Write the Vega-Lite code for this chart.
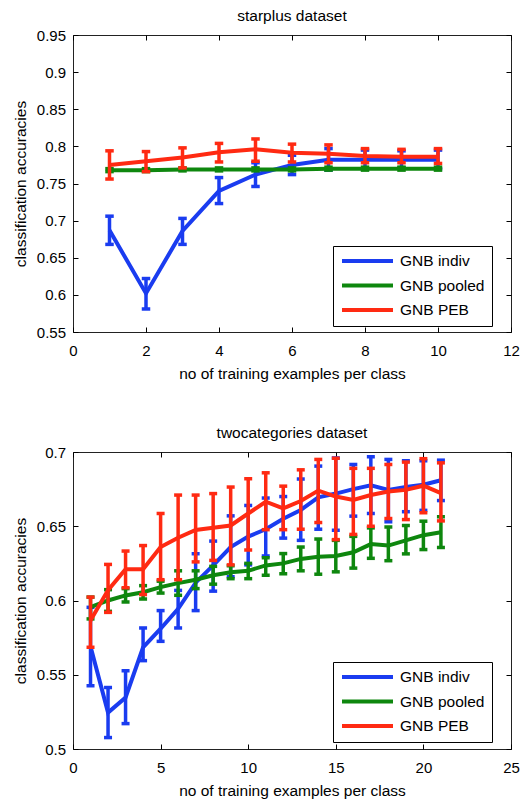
{
  "$schema": "https://vega.github.io/schema/vega-lite/v6.json",
  "padding": {"left": 12, "top": 8, "right": 2, "bottom": 3},
  "spacing": 42,
  "config": {
    "font": "Liberation Sans",
    "view": {"stroke": "#222", "strokeWidth": 1},
    "axis": {"grid": false, "domain": false, "tickColor": "#000", "tickSize": -5, "tickWidth": 1, "labelFontSize": 15, "labelColor": "#000", "titleFontSize": 15.5, "titleFontWeight": "normal", "titleColor": "#000", "labelFont": "Liberation Sans", "titleFont": "Liberation Sans", "labelFlush": false, "labelOverlap": false},
    "axisX": {"labelPadding": 16, "titlePadding": 8.5},
    "axisY": {"labelPadding": 12.5, "titlePadding": 8},
    "title": {"fontSize": 15.5, "fontWeight": "normal", "color": "#000", "offset": 4, "anchor": "middle", "frame": "group", "font": "Liberation Sans"}
  },
  "datasets": {
    "star": [
      {"n": 1, "method": "GNB indiv", "acc": 0.687, "lo": 0.668, "hi": 0.706},
      {"n": 2, "method": "GNB indiv", "acc": 0.602, "lo": 0.581, "hi": 0.622},
      {"n": 3, "method": "GNB indiv", "acc": 0.686, "lo": 0.668, "hi": 0.703},
      {"n": 4, "method": "GNB indiv", "acc": 0.740, "lo": 0.723, "hi": 0.758},
      {"n": 5, "method": "GNB indiv", "acc": 0.762, "lo": 0.746, "hi": 0.778},
      {"n": 6, "method": "GNB indiv", "acc": 0.775, "lo": 0.762, "hi": 0.788},
      {"n": 7, "method": "GNB indiv", "acc": 0.782, "lo": 0.768, "hi": 0.797},
      {"n": 8, "method": "GNB indiv", "acc": 0.782, "lo": 0.770, "hi": 0.795},
      {"n": 9, "method": "GNB indiv", "acc": 0.782, "lo": 0.771, "hi": 0.794},
      {"n": 10, "method": "GNB indiv", "acc": 0.782, "lo": 0.770, "hi": 0.795},
      {"n": 1, "method": "GNB pooled", "acc": 0.768, "lo": 0.766, "hi": 0.770},
      {"n": 2, "method": "GNB pooled", "acc": 0.768, "lo": 0.766, "hi": 0.770},
      {"n": 3, "method": "GNB pooled", "acc": 0.769, "lo": 0.767, "hi": 0.771},
      {"n": 4, "method": "GNB pooled", "acc": 0.769, "lo": 0.767, "hi": 0.771},
      {"n": 5, "method": "GNB pooled", "acc": 0.769, "lo": 0.767, "hi": 0.771},
      {"n": 6, "method": "GNB pooled", "acc": 0.769, "lo": 0.767, "hi": 0.771},
      {"n": 7, "method": "GNB pooled", "acc": 0.770, "lo": 0.768, "hi": 0.772},
      {"n": 8, "method": "GNB pooled", "acc": 0.770, "lo": 0.768, "hi": 0.772},
      {"n": 9, "method": "GNB pooled", "acc": 0.770, "lo": 0.768, "hi": 0.772},
      {"n": 10, "method": "GNB pooled", "acc": 0.770, "lo": 0.768, "hi": 0.772},
      {"n": 1, "method": "GNB PEB", "acc": 0.775, "lo": 0.756, "hi": 0.794},
      {"n": 2, "method": "GNB PEB", "acc": 0.780, "lo": 0.766, "hi": 0.793},
      {"n": 3, "method": "GNB PEB", "acc": 0.785, "lo": 0.771, "hi": 0.798},
      {"n": 4, "method": "GNB PEB", "acc": 0.792, "lo": 0.779, "hi": 0.804},
      {"n": 5, "method": "GNB PEB", "acc": 0.796, "lo": 0.780, "hi": 0.810},
      {"n": 6, "method": "GNB PEB", "acc": 0.7915, "lo": 0.779, "hi": 0.803},
      {"n": 7, "method": "GNB PEB", "acc": 0.790, "lo": 0.778, "hi": 0.802},
      {"n": 8, "method": "GNB PEB", "acc": 0.787, "lo": 0.778, "hi": 0.797},
      {"n": 9, "method": "GNB PEB", "acc": 0.786, "lo": 0.778, "hi": 0.796},
      {"n": 10, "method": "GNB PEB", "acc": 0.786, "lo": 0.777, "hi": 0.797}
    ],
    "two": [
      {"n": 1, "method": "GNB indiv", "acc": 0.569, "lo": 0.5426, "hi": 0.5954},
      {"n": 2, "method": "GNB indiv", "acc": 0.5245, "lo": 0.5077, "hi": 0.5414},
      {"n": 3, "method": "GNB indiv", "acc": 0.5347, "lo": 0.5171, "hi": 0.5527},
      {"n": 4, "method": "GNB indiv", "acc": 0.5685, "lo": 0.5595, "hi": 0.5815},
      {"n": 5, "method": "GNB indiv", "acc": 0.581, "lo": 0.5725, "hi": 0.5932},
      {"n": 6, "method": "GNB indiv", "acc": 0.5944, "lo": 0.5815, "hi": 0.6068},
      {"n": 7, "method": "GNB indiv", "acc": 0.612, "lo": 0.5932, "hi": 0.6315},
      {"n": 8, "method": "GNB indiv", "acc": 0.6236, "lo": 0.6063, "hi": 0.640},
      {"n": 9, "method": "GNB indiv", "acc": 0.636, "lo": 0.616, "hi": 0.657},
      {"n": 10, "method": "GNB indiv", "acc": 0.643, "lo": 0.624, "hi": 0.664},
      {"n": 11, "method": "GNB indiv", "acc": 0.648, "lo": 0.630, "hi": 0.669},
      {"n": 12, "method": "GNB indiv", "acc": 0.655, "lo": 0.642, "hi": 0.670},
      {"n": 13, "method": "GNB indiv", "acc": 0.661, "lo": 0.6405, "hi": 0.6818},
      {"n": 14, "method": "GNB indiv", "acc": 0.6695, "lo": 0.648, "hi": 0.6905},
      {"n": 15, "method": "GNB indiv", "acc": 0.672, "lo": 0.6473, "hi": 0.696},
      {"n": 16, "method": "GNB indiv", "acc": 0.675, "lo": 0.6568, "hi": 0.6916},
      {"n": 17, "method": "GNB indiv", "acc": 0.6775, "lo": 0.6586, "hi": 0.6968},
      {"n": 18, "method": "GNB indiv", "acc": 0.6745, "lo": 0.653, "hi": 0.695},
      {"n": 19, "method": "GNB indiv", "acc": 0.6764, "lo": 0.6598, "hi": 0.6941},
      {"n": 20, "method": "GNB indiv", "acc": 0.678, "lo": 0.6607, "hi": 0.6941},
      {"n": 21, "method": "GNB indiv", "acc": 0.681, "lo": 0.6673, "hi": 0.6945},
      {"n": 1, "method": "GNB pooled", "acc": 0.5955, "lo": 0.5876, "hi": 0.6023},
      {"n": 2, "method": "GNB pooled", "acc": 0.600, "lo": 0.5927, "hi": 0.6073},
      {"n": 3, "method": "GNB pooled", "acc": 0.6034, "lo": 0.599, "hi": 0.608},
      {"n": 4, "method": "GNB pooled", "acc": 0.6056, "lo": 0.601, "hi": 0.610},
      {"n": 5, "method": "GNB pooled", "acc": 0.609, "lo": 0.605, "hi": 0.613},
      {"n": 6, "method": "GNB pooled", "acc": 0.6117, "lo": 0.6035, "hi": 0.620},
      {"n": 7, "method": "GNB pooled", "acc": 0.614, "lo": 0.608, "hi": 0.620},
      {"n": 8, "method": "GNB pooled", "acc": 0.617, "lo": 0.611, "hi": 0.623},
      {"n": 9, "method": "GNB pooled", "acc": 0.619, "lo": 0.6147, "hi": 0.6234},
      {"n": 10, "method": "GNB pooled", "acc": 0.620, "lo": 0.6147, "hi": 0.625},
      {"n": 11, "method": "GNB pooled", "acc": 0.6236, "lo": 0.617, "hi": 0.6288},
      {"n": 12, "method": "GNB pooled", "acc": 0.625, "lo": 0.618, "hi": 0.6316},
      {"n": 13, "method": "GNB pooled", "acc": 0.628, "lo": 0.620, "hi": 0.636},
      {"n": 14, "method": "GNB pooled", "acc": 0.6295, "lo": 0.6177, "hi": 0.6414},
      {"n": 15, "method": "GNB pooled", "acc": 0.630, "lo": 0.6193, "hi": 0.6405},
      {"n": 16, "method": "GNB pooled", "acc": 0.6325, "lo": 0.6218, "hi": 0.6432},
      {"n": 17, "method": "GNB pooled", "acc": 0.638, "lo": 0.6284, "hi": 0.6489},
      {"n": 18, "method": "GNB pooled", "acc": 0.637, "lo": 0.6268, "hi": 0.6495},
      {"n": 19, "method": "GNB pooled", "acc": 0.6405, "lo": 0.6314, "hi": 0.6505},
      {"n": 20, "method": "GNB pooled", "acc": 0.644, "lo": 0.6343, "hi": 0.6534},
      {"n": 21, "method": "GNB pooled", "acc": 0.646, "lo": 0.6357, "hi": 0.6564},
      {"n": 1, "method": "GNB PEB", "acc": 0.5865, "lo": 0.5685, "hi": 0.6023},
      {"n": 2, "method": "GNB PEB", "acc": 0.607, "lo": 0.592, "hi": 0.6243},
      {"n": 3, "method": "GNB PEB", "acc": 0.621, "lo": 0.6086, "hi": 0.6333},
      {"n": 4, "method": "GNB PEB", "acc": 0.621, "lo": 0.604, "hi": 0.637},
      {"n": 5, "method": "GNB PEB", "acc": 0.636, "lo": 0.614, "hi": 0.6586},
      {"n": 6, "method": "GNB PEB", "acc": 0.6423, "lo": 0.614, "hi": 0.671},
      {"n": 7, "method": "GNB PEB", "acc": 0.6475, "lo": 0.626, "hi": 0.671},
      {"n": 8, "method": "GNB PEB", "acc": 0.649, "lo": 0.627, "hi": 0.672},
      {"n": 9, "method": "GNB PEB", "acc": 0.6505, "lo": 0.624, "hi": 0.6764},
      {"n": 10, "method": "GNB PEB", "acc": 0.6586, "lo": 0.634, "hi": 0.682},
      {"n": 11, "method": "GNB PEB", "acc": 0.6665, "lo": 0.6477, "hi": 0.686},
      {"n": 12, "method": "GNB PEB", "acc": 0.662, "lo": 0.6477, "hi": 0.677},
      {"n": 13, "method": "GNB PEB", "acc": 0.667, "lo": 0.648, "hi": 0.688},
      {"n": 14, "method": "GNB PEB", "acc": 0.674, "lo": 0.6525, "hi": 0.695},
      {"n": 15, "method": "GNB PEB", "acc": 0.670, "lo": 0.641, "hi": 0.6958},
      {"n": 16, "method": "GNB PEB", "acc": 0.6677, "lo": 0.6445, "hi": 0.689},
      {"n": 17, "method": "GNB PEB", "acc": 0.671, "lo": 0.650, "hi": 0.689},
      {"n": 18, "method": "GNB PEB", "acc": 0.6734, "lo": 0.6552, "hi": 0.6916},
      {"n": 19, "method": "GNB PEB", "acc": 0.6745, "lo": 0.6545, "hi": 0.6932},
      {"n": 20, "method": "GNB PEB", "acc": 0.6773, "lo": 0.6591, "hi": 0.6955},
      {"n": 21, "method": "GNB PEB", "acc": 0.6723, "lo": 0.6536, "hi": 0.6927}
    ]
  },
  "vconcat": [
    {
      "width": 438, "height": 297,
      "title": "starplus dataset",
      "data": {"name": "star"},
      "resolve": {"axis": {"x": "independent", "y": "independent"}},
      "layer": [
        {
          "transform": [{"filter": "datum.method === 'GNB indiv'"}],
          "layer": [
            {"mark": {"type": "rule", "strokeWidth": 3.5, "color": "#1a3cf0"},
             "encoding": {
               "x": {"field": "n", "type": "quantitative", "scale": {"domain": [0, 12], "nice": false, "zero": false}, "axis": {"orient": "bottom", "values": [0, 2, 4, 6, 8, 10, 12], "title": "no of training examples per class"}},
               "y": {"field": "lo", "type": "quantitative", "scale": {"domain": [0.55, 0.95], "nice": false, "zero": false}, "axis": {"orient": "left", "values": [0.55, 0.6, 0.65, 0.7, 0.75, 0.8, 0.85, 0.9, 0.95], "format": "~g", "title": "classification accuracies"}},
               "y2": {"field": "hi"}}},
            {"transform": [{"fold": ["lo", "hi"], "as": ["bound", "yv"]}],
             "mark": {"type": "tick", "orient": "horizontal", "size": 8.5, "thickness": 3.5, "color": "#1a3cf0", "opacity": 1},
             "encoding": {
               "x": {"field": "n", "type": "quantitative", "scale": {"domain": [0, 12], "nice": false, "zero": false}, "axis": {"orient": "bottom", "values": [0, 2, 4, 6, 8, 10, 12], "title": "no of training examples per class"}},
               "y": {"field": "yv", "type": "quantitative", "scale": {"domain": [0.55, 0.95], "nice": false, "zero": false}, "axis": {"orient": "left", "values": [0.55, 0.6, 0.65, 0.7, 0.75, 0.8, 0.85, 0.9, 0.95], "format": "~g", "title": "classification accuracies"}}}},
            {"mark": {"type": "line", "strokeWidth": 4},
             "encoding": {
               "x": {"field": "n", "type": "quantitative", "scale": {"domain": [0, 12], "nice": false, "zero": false}, "axis": {"orient": "bottom", "values": [0, 2, 4, 6, 8, 10, 12], "title": "no of training examples per class"}},
               "y": {"field": "acc", "type": "quantitative", "scale": {"domain": [0.55, 0.95], "nice": false, "zero": false}, "axis": {"orient": "left", "values": [0.55, 0.6, 0.65, 0.7, 0.75, 0.8, 0.85, 0.9, 0.95], "format": "~g", "title": "classification accuracies"}},
               "color": {"field": "method", "type": "nominal", "scale": {"domain": ["GNB indiv", "GNB pooled", "GNB PEB"], "range": ["#1a3cf0", "#0e870e", "#ff2a12"]}, "legend": {"orient": "none", "legendX": 260, "legendY": 211, "title": null, "symbolType": "stroke", "symbolSize": 2601, "symbolStrokeWidth": 4, "clipHeight": 16, "rowPadding": 7.5, "padding": 7, "labelOffset": 5, "labelFontSize": 15.5, "labelColor": "#000", "labelFont": "Liberation Sans", "strokeColor": "#000", "fillColor": "#fff", "labelLimit": 200}}}}
          ]
        },
        {
          "transform": [{"filter": "datum.method === 'GNB pooled'"}],
          "layer": [
            {"mark": {"type": "rule", "strokeWidth": 3.5, "color": "#0e870e"},
             "encoding": {
               "x": {"field": "n", "type": "quantitative", "scale": {"domain": [0, 12], "nice": false, "zero": false}, "axis": {"orient": "top", "values": [0, 2, 4, 6, 8, 10, 12], "labels": false, "title": null}},
               "y": {"field": "lo", "type": "quantitative", "scale": {"domain": [0.55, 0.95], "nice": false, "zero": false}, "axis": {"orient": "right", "values": [0.55, 0.6, 0.65, 0.7, 0.75, 0.8, 0.85, 0.9, 0.95], "labels": false, "title": null}},
               "y2": {"field": "hi"}}},
            {"transform": [{"fold": ["lo", "hi"], "as": ["bound", "yv"]}],
             "mark": {"type": "tick", "orient": "horizontal", "size": 8.5, "thickness": 3.5, "color": "#0e870e", "opacity": 1},
             "encoding": {
               "x": {"field": "n", "type": "quantitative", "scale": {"domain": [0, 12], "nice": false, "zero": false}, "axis": {"orient": "top", "values": [0, 2, 4, 6, 8, 10, 12], "labels": false, "title": null}},
               "y": {"field": "yv", "type": "quantitative", "scale": {"domain": [0.55, 0.95], "nice": false, "zero": false}, "axis": {"orient": "right", "values": [0.55, 0.6, 0.65, 0.7, 0.75, 0.8, 0.85, 0.9, 0.95], "labels": false, "title": null}}}},
            {"mark": {"type": "line", "strokeWidth": 4},
             "encoding": {
               "x": {"field": "n", "type": "quantitative", "scale": {"domain": [0, 12], "nice": false, "zero": false}, "axis": {"orient": "top", "values": [0, 2, 4, 6, 8, 10, 12], "labels": false, "title": null}},
               "y": {"field": "acc", "type": "quantitative", "scale": {"domain": [0.55, 0.95], "nice": false, "zero": false}, "axis": {"orient": "right", "values": [0.55, 0.6, 0.65, 0.7, 0.75, 0.8, 0.85, 0.9, 0.95], "labels": false, "title": null}},
               "color": {"field": "method", "type": "nominal", "scale": {"domain": ["GNB indiv", "GNB pooled", "GNB PEB"], "range": ["#1a3cf0", "#0e870e", "#ff2a12"]}, "legend": {"orient": "none", "legendX": 260, "legendY": 211, "title": null, "symbolType": "stroke", "symbolSize": 2601, "symbolStrokeWidth": 4, "clipHeight": 16, "rowPadding": 7.5, "padding": 7, "labelOffset": 5, "labelFontSize": 15.5, "labelColor": "#000", "labelFont": "Liberation Sans", "strokeColor": "#000", "fillColor": "#fff", "labelLimit": 200}}}}
          ]
        },
        {
          "transform": [{"filter": "datum.method === 'GNB PEB'"}],
          "layer": [
            {"mark": {"type": "rule", "strokeWidth": 3.5, "color": "#ff2a12"},
             "encoding": {
               "x": {"field": "n", "type": "quantitative", "scale": {"domain": [0, 12], "nice": false, "zero": false}, "axis": null},
               "y": {"field": "lo", "type": "quantitative", "scale": {"domain": [0.55, 0.95], "nice": false, "zero": false}, "axis": null},
               "y2": {"field": "hi"}}},
            {"transform": [{"fold": ["lo", "hi"], "as": ["bound", "yv"]}],
             "mark": {"type": "tick", "orient": "horizontal", "size": 8.5, "thickness": 3.5, "color": "#ff2a12", "opacity": 1},
             "encoding": {
               "x": {"field": "n", "type": "quantitative", "scale": {"domain": [0, 12], "nice": false, "zero": false}, "axis": null},
               "y": {"field": "yv", "type": "quantitative", "scale": {"domain": [0.55, 0.95], "nice": false, "zero": false}, "axis": null}}},
            {"mark": {"type": "line", "strokeWidth": 4},
             "encoding": {
               "x": {"field": "n", "type": "quantitative", "scale": {"domain": [0, 12], "nice": false, "zero": false}, "axis": null},
               "y": {"field": "acc", "type": "quantitative", "scale": {"domain": [0.55, 0.95], "nice": false, "zero": false}, "axis": null},
               "color": {"field": "method", "type": "nominal", "scale": {"domain": ["GNB indiv", "GNB pooled", "GNB PEB"], "range": ["#1a3cf0", "#0e870e", "#ff2a12"]}, "legend": {"orient": "none", "legendX": 260, "legendY": 211, "title": null, "symbolType": "stroke", "symbolSize": 2601, "symbolStrokeWidth": 4, "clipHeight": 16, "rowPadding": 7.5, "padding": 7, "labelOffset": 5, "labelFontSize": 15.5, "labelColor": "#000", "labelFont": "Liberation Sans", "strokeColor": "#000", "fillColor": "#fff", "labelLimit": 200}}}}
          ]
        }
      ]
    },
    {
      "width": 438, "height": 297,
      "title": "twocategories dataset",
      "data": {"name": "two"},
      "resolve": {"axis": {"x": "independent", "y": "independent"}},
      "layer": [
        {
          "transform": [{"filter": "datum.method === 'GNB indiv'"}],
          "layer": [
            {"mark": {"type": "rule", "strokeWidth": 3.5, "color": "#1a3cf0"},
             "encoding": {
               "x": {"field": "n", "type": "quantitative", "scale": {"domain": [0, 25], "nice": false, "zero": false}, "axis": {"orient": "bottom", "values": [0, 5, 10, 15, 20, 25], "title": "no of training examples per class"}},
               "y": {"field": "lo", "type": "quantitative", "scale": {"domain": [0.5, 0.7], "nice": false, "zero": false}, "axis": {"orient": "left", "values": [0.5, 0.55, 0.6, 0.65, 0.7], "format": "~g", "title": "classification accuracies"}},
               "y2": {"field": "hi"}}},
            {"transform": [{"fold": ["lo", "hi"], "as": ["bound", "yv"]}],
             "mark": {"type": "tick", "orient": "horizontal", "size": 8, "thickness": 3.5, "color": "#1a3cf0", "opacity": 1},
             "encoding": {
               "x": {"field": "n", "type": "quantitative", "scale": {"domain": [0, 25], "nice": false, "zero": false}, "axis": {"orient": "bottom", "values": [0, 5, 10, 15, 20, 25], "title": "no of training examples per class"}},
               "y": {"field": "yv", "type": "quantitative", "scale": {"domain": [0.5, 0.7], "nice": false, "zero": false}, "axis": {"orient": "left", "values": [0.5, 0.55, 0.6, 0.65, 0.7], "format": "~g", "title": "classification accuracies"}}}},
            {"mark": {"type": "line", "strokeWidth": 4},
             "encoding": {
               "x": {"field": "n", "type": "quantitative", "scale": {"domain": [0, 25], "nice": false, "zero": false}, "axis": {"orient": "bottom", "values": [0, 5, 10, 15, 20, 25], "title": "no of training examples per class"}},
               "y": {"field": "acc", "type": "quantitative", "scale": {"domain": [0.5, 0.7], "nice": false, "zero": false}, "axis": {"orient": "left", "values": [0.5, 0.55, 0.6, 0.65, 0.7], "format": "~g", "title": "classification accuracies"}},
               "color": {"field": "method", "type": "nominal", "scale": {"domain": ["GNB indiv", "GNB pooled", "GNB PEB"], "range": ["#1a3cf0", "#0e870e", "#ff2a12"]}, "legend": {"orient": "none", "legendX": 260, "legendY": 210, "title": null, "symbolType": "stroke", "symbolSize": 2601, "symbolStrokeWidth": 4, "clipHeight": 16, "rowPadding": 7.5, "padding": 7, "labelOffset": 5, "labelFontSize": 15.5, "labelColor": "#000", "labelFont": "Liberation Sans", "strokeColor": "#000", "fillColor": "#fff", "labelLimit": 200}}}}
          ]
        },
        {
          "transform": [{"filter": "datum.method === 'GNB pooled'"}],
          "layer": [
            {"mark": {"type": "rule", "strokeWidth": 3.5, "color": "#0e870e"},
             "encoding": {
               "x": {"field": "n", "type": "quantitative", "scale": {"domain": [0, 25], "nice": false, "zero": false}, "axis": {"orient": "top", "values": [0, 5, 10, 15, 20, 25], "labels": false, "title": null}},
               "y": {"field": "lo", "type": "quantitative", "scale": {"domain": [0.5, 0.7], "nice": false, "zero": false}, "axis": {"orient": "right", "values": [0.5, 0.55, 0.6, 0.65, 0.7], "labels": false, "title": null}},
               "y2": {"field": "hi"}}},
            {"transform": [{"fold": ["lo", "hi"], "as": ["bound", "yv"]}],
             "mark": {"type": "tick", "orient": "horizontal", "size": 8, "thickness": 3.5, "color": "#0e870e", "opacity": 1},
             "encoding": {
               "x": {"field": "n", "type": "quantitative", "scale": {"domain": [0, 25], "nice": false, "zero": false}, "axis": {"orient": "top", "values": [0, 5, 10, 15, 20, 25], "labels": false, "title": null}},
               "y": {"field": "yv", "type": "quantitative", "scale": {"domain": [0.5, 0.7], "nice": false, "zero": false}, "axis": {"orient": "right", "values": [0.5, 0.55, 0.6, 0.65, 0.7], "labels": false, "title": null}}}},
            {"mark": {"type": "line", "strokeWidth": 4},
             "encoding": {
               "x": {"field": "n", "type": "quantitative", "scale": {"domain": [0, 25], "nice": false, "zero": false}, "axis": {"orient": "top", "values": [0, 5, 10, 15, 20, 25], "labels": false, "title": null}},
               "y": {"field": "acc", "type": "quantitative", "scale": {"domain": [0.5, 0.7], "nice": false, "zero": false}, "axis": {"orient": "right", "values": [0.5, 0.55, 0.6, 0.65, 0.7], "labels": false, "title": null}},
               "color": {"field": "method", "type": "nominal", "scale": {"domain": ["GNB indiv", "GNB pooled", "GNB PEB"], "range": ["#1a3cf0", "#0e870e", "#ff2a12"]}, "legend": {"orient": "none", "legendX": 260, "legendY": 210, "title": null, "symbolType": "stroke", "symbolSize": 2601, "symbolStrokeWidth": 4, "clipHeight": 16, "rowPadding": 7.5, "padding": 7, "labelOffset": 5, "labelFontSize": 15.5, "labelColor": "#000", "labelFont": "Liberation Sans", "strokeColor": "#000", "fillColor": "#fff", "labelLimit": 200}}}}
          ]
        },
        {
          "transform": [{"filter": "datum.method === 'GNB PEB'"}],
          "layer": [
            {"mark": {"type": "rule", "strokeWidth": 3.5, "color": "#ff2a12"},
             "encoding": {
               "x": {"field": "n", "type": "quantitative", "scale": {"domain": [0, 25], "nice": false, "zero": false}, "axis": null},
               "y": {"field": "lo", "type": "quantitative", "scale": {"domain": [0.5, 0.7], "nice": false, "zero": false}, "axis": null},
               "y2": {"field": "hi"}}},
            {"transform": [{"fold": ["lo", "hi"], "as": ["bound", "yv"]}],
             "mark": {"type": "tick", "orient": "horizontal", "size": 8, "thickness": 3.5, "color": "#ff2a12", "opacity": 1},
             "encoding": {
               "x": {"field": "n", "type": "quantitative", "scale": {"domain": [0, 25], "nice": false, "zero": false}, "axis": null},
               "y": {"field": "yv", "type": "quantitative", "scale": {"domain": [0.5, 0.7], "nice": false, "zero": false}, "axis": null}}},
            {"mark": {"type": "line", "strokeWidth": 4},
             "encoding": {
               "x": {"field": "n", "type": "quantitative", "scale": {"domain": [0, 25], "nice": false, "zero": false}, "axis": null},
               "y": {"field": "acc", "type": "quantitative", "scale": {"domain": [0.5, 0.7], "nice": false, "zero": false}, "axis": null},
               "color": {"field": "method", "type": "nominal", "scale": {"domain": ["GNB indiv", "GNB pooled", "GNB PEB"], "range": ["#1a3cf0", "#0e870e", "#ff2a12"]}, "legend": {"orient": "none", "legendX": 260, "legendY": 210, "title": null, "symbolType": "stroke", "symbolSize": 2601, "symbolStrokeWidth": 4, "clipHeight": 16, "rowPadding": 7.5, "padding": 7, "labelOffset": 5, "labelFontSize": 15.5, "labelColor": "#000", "labelFont": "Liberation Sans", "strokeColor": "#000", "fillColor": "#fff", "labelLimit": 200}}}}
          ]
        }
      ]
    }
  ],
  "resolve": {"scale": {"color": "independent"}, "legend": {"color": "independent"}}
}
